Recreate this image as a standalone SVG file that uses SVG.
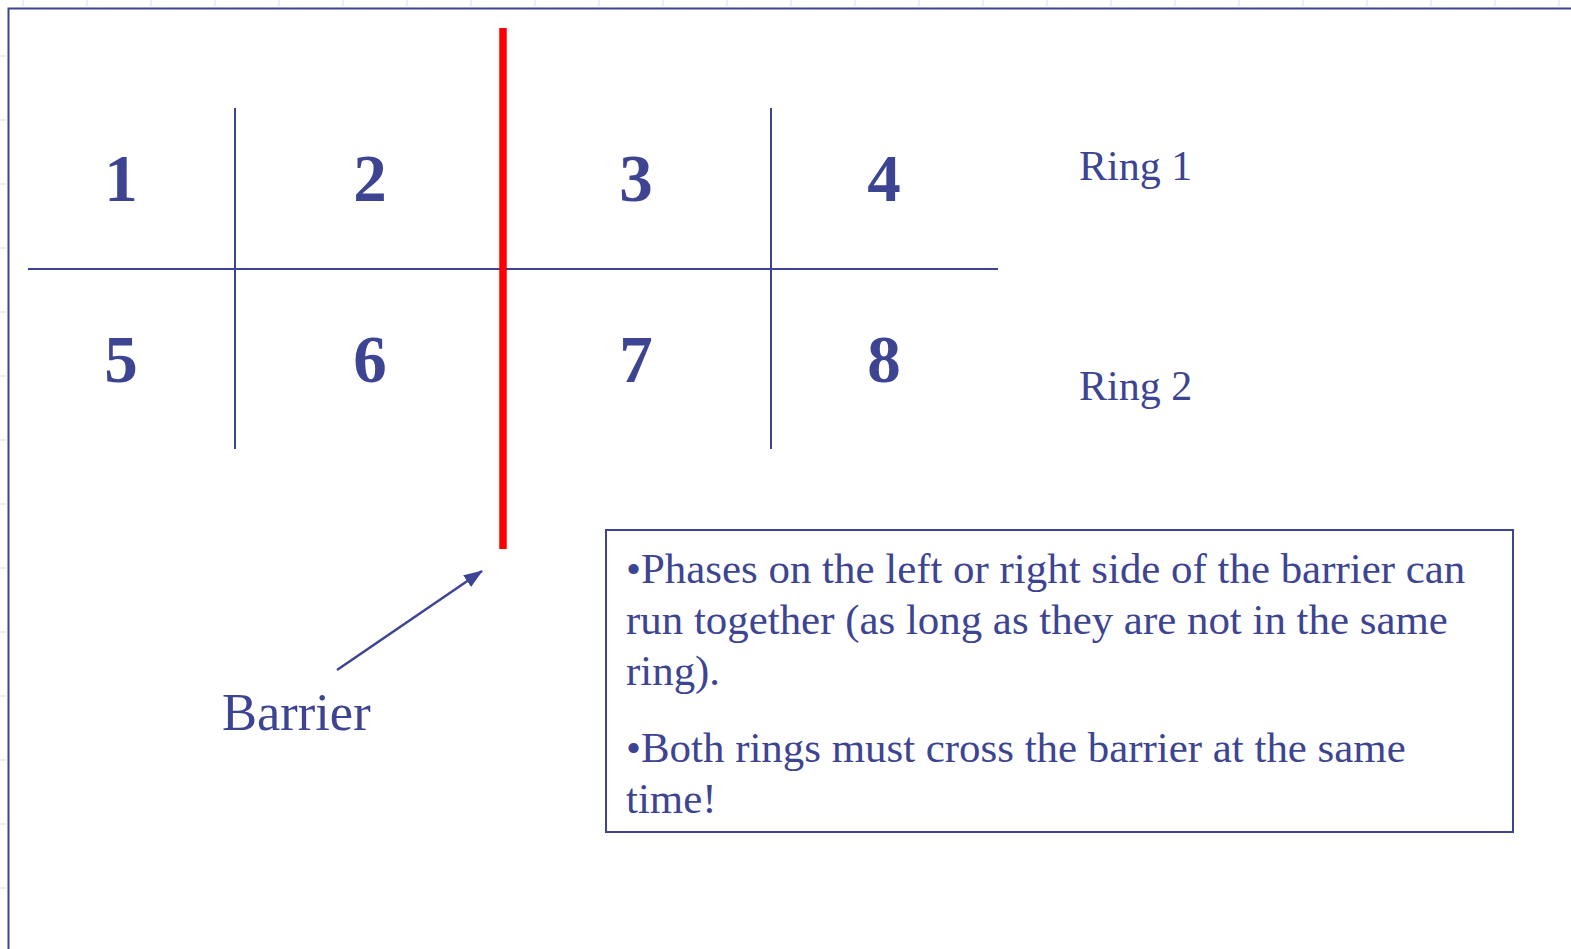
<svg xmlns="http://www.w3.org/2000/svg" width="1571" height="949" viewBox="0 0 1571 949">
<style>
.ink{stroke:#3d4592;fill:none}
.num{font-family:"Liberation Serif","Times New Roman",serif;font-weight:bold;font-size:67px;fill:#3d4592;text-anchor:middle}
.lbl{font-family:"Liberation Serif","Times New Roman",serif;fill:#3d4592}
.tick{stroke:#d3d9f3;stroke-width:1}
</style>
<defs>
<marker id="ah" markerWidth="19" markerHeight="14" refX="18" refY="7" orient="auto" markerUnits="userSpaceOnUse" viewBox="0 0 19 14">
<path d="M0,0 L19,7 L0,14 Z" fill="#3d4592"/>
</marker>
</defs>
<rect width="1571" height="949" fill="#ffffff"/>
<g id="ticks">
<path class="tick" d="M23,0V6M87,0V6M151,0V6M215,0V6M279,0V6M343,0V6M407,0V6M471,0V6M535,0V6M599,0V6M663,0V6M727,0V6M791,0V6M855,0V6M919,0V6M983,0V6M1047,0V6M1111,0V6M1175,0V6M1239,0V6M1303,0V6M1367,0V6M1431,0V6M1495,0V6M1559,0V6"/>
<path class="tick" d="M0,56H6M0,120H6M0,184H6M0,248H6M0,312H6M0,376H6M0,440H6M0,504H6M0,568H6M0,632H6M0,696H6M0,760H6M0,824H6M0,888H6"/>
</g>
<g id="frame">
<path class="ink" stroke-width="2" d="M8.5,949V8.5H1571"/>
</g>
<g id="grid">
<line class="ink" stroke-width="2" x1="28" y1="269" x2="998" y2="269"/>
<line class="ink" stroke-width="2" x1="235" y1="108" x2="235" y2="449"/>
<line class="ink" stroke-width="2" x1="771" y1="108" x2="771" y2="449"/>
</g>
<g id="barrier-line">
<line x1="503" y1="28" x2="503" y2="549" stroke="#ff0000" stroke-width="7.5"/>
</g>
<g id="phases">
<text class="num" x="121" y="201">1</text>
<text class="num" x="370" y="201">2</text>
<text class="num" x="636" y="201">3</text>
<text class="num" x="884" y="201">4</text>
<text class="num" x="121" y="382">5</text>
<text class="num" x="370" y="382">6</text>
<text class="num" x="636" y="382">7</text>
<text class="num" x="884" y="382">8</text>
</g>
<g id="ring1"><text class="lbl" x="1079" y="180" font-size="42">Ring 1</text></g>
<g id="ring2"><text class="lbl" x="1079" y="400" font-size="42">Ring 2</text></g>
<g id="barrier-label"><text class="lbl" x="222" y="730" font-size="52.5">Barrier</text></g>
<g id="connectors">
<line class="ink" stroke-width="2.5" x1="337" y1="670" x2="482" y2="571" marker-end="url(#ah)"/>
</g>
<g id="note">
<rect x="606" y="530" width="907" height="302" class="ink" stroke-width="2"/>
<text class="lbl" font-size="42.9">
<tspan x="626" y="583">•Phases on the left or right side of the barrier can</tspan>
<tspan x="626" y="634">run together (as long as they are not in the same</tspan>
<tspan x="626" y="685">ring).</tspan>
<tspan x="626" y="762">•Both rings must cross the barrier at the same</tspan>
<tspan x="626" y="813">time!</tspan>
</text>
</g>
</svg>
